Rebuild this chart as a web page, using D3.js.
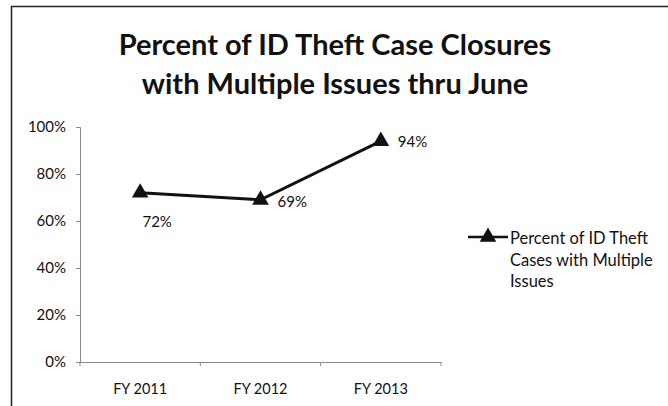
<!DOCTYPE html>
<html>
<head>
<meta charset="utf-8">
<script src="https://cdn.jsdelivr.net/npm/d3@7"></script>
<style>
  body { margin: 0; background: #fff; }
  text { font-family: Lato, "Open Sans", sans-serif; fill: #111; }
</style>
</head>
<body>
<svg id="chart"></svg>
<script>
let years = ["FY 2011", "FY 2012", "FY 2013"];
let pctMultiple = [0.72, 0.69, 0.94];
let yTicks = [0, 0.2, 0.4, 0.6, 0.8, 1.0];
let titleLines = ["Percent of ID Theft Case Closures", "with Multiple Issues thru June"];
let legendLines = ["Percent of ID Theft", "Cases with Multiple", "Issues"];

function drawChart() {
    let w = 668, h = 406;
    let svg = d3.select("#chart")
        .attr("width", w)
        .attr("height", h);

    // frame (only top and left edges show in the scan)
    svg.append("path")
        .attr("d", "M11.5," + h + "V6.5H" + w)
        .attr("fill", "none")
        .attr("stroke", "#222")
        .attr("stroke-width", 1.5);

    svg.selectAll(".title")
        .data(titleLines)
        .enter()
        .append("text")
        .attr("class", "title")
        .attr("x", 335)
        .attr("y", (d, i) => 55 + i * 39)
        .style("text-anchor", "middle")
        .style("font-size", "29px")
        .style("font-weight", "bold")
        .text(d => d);

    let x = d3.scaleBand()
        .domain(years)
        .range([80, 441]);

    let y = d3.scaleLinear()
        .domain([0, 1])
        .range([362, 127]);

    let yAxis = svg.append("g")
        .attr("transform", "translate(80,0)")
        .call(d3.axisLeft(y).tickValues(yTicks).tickFormat(d3.format(".0%")).tickSize(4).tickPadding(10));

    let xAxis = svg.append("g")
        .attr("transform", "translate(0,362)")
        .call(d3.axisBottom(x).tickSize(0).tickPadding(22));

    // category separator ticks
    svg.selectAll(".sep")
        .data([80, 80 + x.step(), 80 + 2 * x.step(), 441])
        .enter()
        .append("line")
        .attr("x1", d => d).attr("x2", d => d)
        .attr("y1", 362).attr("y2", 366)
        .attr("stroke", "#888");

    [yAxis, xAxis].forEach(g => {
        g.selectAll("path, line").attr("stroke", "#888");
        g.selectAll("text")
            .style("font-family", "Lato, sans-serif")
            .attr("fill", "#111");
    });
    yAxis.selectAll("text").style("font-size", "15px");
    xAxis.selectAll("text").style("font-size", "14.5px");

    let line = d3.line()
        .x((d, i) => x(years[i]) + x.bandwidth() / 2)
        .y(d => y(d));

    svg.append("path")
        .datum(pctMultiple)
        .attr("d", line)
        .attr("fill", "none")
        .attr("stroke", "#111")
        .attr("stroke-width", 3);

    let tri = d3.symbol().type(d3.symbolTriangle).size(120);

    svg.selectAll(".pt")
        .data(pctMultiple)
        .enter()
        .append("path")
        .attr("class", "pt")
        .attr("d", tri)
        .attr("fill", "#111")
        .attr("transform", (d, i) => "translate(" + (x(years[i]) + x.bandwidth() / 2) + "," + y(d) + ")");

    // data labels: first one below, others to the right
    let labelOff = [[17, 34], [17, 7], [17, 6]];
    svg.selectAll(".lbl")
        .data(pctMultiple)
        .enter()
        .append("text")
        .attr("class", "lbl")
        .attr("x", (d, i) => x(years[i]) + x.bandwidth() / 2 + labelOff[i][0])
        .attr("y", (d, i) => y(d) + labelOff[i][1])
        .style("text-anchor", (d, i) => i == 0 ? "middle" : "start")
        .style("font-size", "15px")
        .text(d => d3.format(".0%")(d));

    // legend
    let lg = svg.append("g").attr("transform", "translate(468,237)");
    lg.append("line")
        .attr("x1", 0).attr("x2", 40)
        .attr("stroke", "#111").attr("stroke-width", 2.5);
    lg.append("path")
        .attr("d", tri)
        .attr("fill", "#111")
        .attr("transform", "translate(20,0)");
    lg.selectAll("text")
        .data(legendLines)
        .enter()
        .append("text")
        .attr("x", 42)
        .attr("y", (d, i) => 7 + i * 21.5)
        .style("font-size", "16.5px")
        .text(d => d);
}

window.onload = function() {
    drawChart();
}
</script>
</body>
</html>
